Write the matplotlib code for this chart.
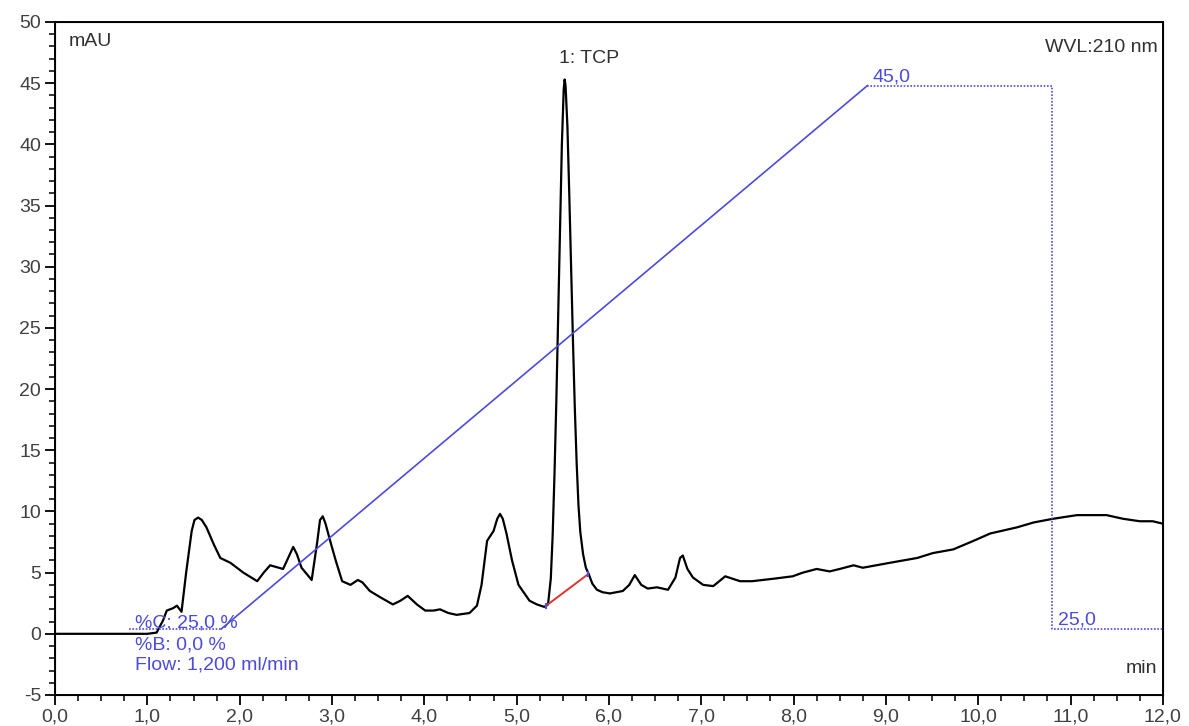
import numpy as np
import matplotlib.pyplot as plt
from matplotlib.ticker import MultipleLocator, FuncFormatter

plt.rcParams['font.family'] = ['Liberation Sans', 'DejaVu Sans']

# chromatogram trace (min, mAU)
t_min = [0.0, 0.5, 1.0, 1.10, 1.17, 1.21, 1.28, 1.32, 1.37, 1.42, 1.48, 1.51,
         1.55, 1.59, 1.64, 1.72, 1.79, 1.90, 2.04, 2.19, 2.26, 2.33, 2.47,
         2.55, 2.58, 2.62, 2.67, 2.78, 2.84, 2.87, 2.90, 2.93, 2.98, 3.04,
         3.11, 3.20, 3.28, 3.33, 3.41, 3.52, 3.66, 3.74, 3.82, 3.92, 4.01,
         4.10, 4.17, 4.26, 4.35, 4.49, 4.57, 4.62, 4.68, 4.75, 4.79, 4.82,
         4.85, 4.89, 4.95, 5.02, 5.14, 5.22, 5.30,
         5.34, 5.37, 5.39, 5.41, 5.43, 5.45, 5.47, 5.49, 5.51, 5.52, 5.53,
         5.55, 5.57, 5.59, 5.61, 5.63, 5.65, 5.67, 5.69, 5.72, 5.75, 5.78,
         5.82, 5.87, 5.93, 6.01, 6.15, 6.22, 6.28, 6.35, 6.42, 6.52, 6.64,
         6.72, 6.77, 6.80, 6.85, 6.91, 7.02, 7.13, 7.26, 7.42, 7.55, 7.78,
         7.99, 8.10, 8.25, 8.39, 8.50, 8.65, 8.75, 9.04, 9.34, 9.51, 9.73,
         9.95, 10.13, 10.42, 10.60, 10.81, 11.07, 11.39, 11.57, 11.75, 11.89,
         12.0]
mau = [0.0, 0.0, 0.0, 0.1, 1.1, 1.9, 2.1, 2.3, 1.8, 5.0, 8.4, 9.3,
       9.5, 9.3, 8.7, 7.3, 6.2, 5.8, 5.0, 4.3, 5.0, 5.6, 5.3,
       6.6, 7.1, 6.5, 5.4, 4.4, 7.5, 9.3, 9.6, 9.0, 7.6, 6.0,
       4.3, 4.0, 4.4, 4.2, 3.5, 3.0, 2.4, 2.7, 3.1, 2.4, 1.9,
       1.9, 2.0, 1.7, 1.55, 1.7, 2.3, 4.0, 7.6, 8.4, 9.4, 9.8,
       9.4, 8.2, 6.0, 4.0, 2.7, 2.4, 2.2,
       2.4, 4.5, 8.0, 13.0, 19.0, 26.0, 33.0, 40.0, 44.5, 45.3, 44.8,
       41.5, 36.0, 30.0, 24.0, 18.5, 14.0, 10.5, 8.3, 6.5, 5.4, 4.9,
       4.1, 3.6, 3.4, 3.3, 3.5, 4.0, 4.8, 4.0, 3.7, 3.8, 3.6,
       4.6, 6.2, 6.4, 5.3, 4.6, 4.0, 3.9, 4.7, 4.3, 4.3, 4.5,
       4.7, 5.0, 5.3, 5.1, 5.3, 5.6, 5.4, 5.8, 6.2, 6.6, 6.9,
       7.6, 8.2, 8.7, 9.1, 9.4, 9.7, 9.7, 9.4, 9.2, 9.2,
       9.0]

# peak baseline (red)
base_t = [5.32, 5.77]
base_y = [2.3, 4.85]

# gradient program (%C)
grad_t = [0.8, 1.8, 8.8, 10.8, 10.8, 12.0]
grad_pct = [25.0, 25.0, 45.0, 45.0, 25.0, 25.0]

blue = '#4b4bdc'
fs = 14

fig = plt.figure(figsize=(11.89, 7.26), dpi=100)
ax = fig.add_axes([0.0463, 0.0427, 0.9317, 0.927])

ax.plot(t_min, mau, color='black', lw=1.6, zorder=3)
ax.plot(base_t, base_y, color='#e03030', lw=1.4, zorder=4)
ax.plot(base_t, base_y, ls='none', marker='|', ms=5, mew=1.5, color=blue, zorder=5)

ax.set_xlim(0, 12)
ax.set_ylim(-5, 50)
ax.xaxis.set_major_locator(MultipleLocator(1))
ax.xaxis.set_minor_locator(MultipleLocator(0.25))
ax.yaxis.set_major_locator(MultipleLocator(5))
ax.yaxis.set_minor_locator(MultipleLocator(1))
ax.xaxis.set_major_formatter(FuncFormatter(lambda v, p: ('%.1f' % v).replace('.', ',')))
ax.yaxis.set_major_formatter(FuncFormatter(lambda v, p: '%d' % v))
ax.tick_params(which='major', length=7, width=1.3, labelsize=fs, labelcolor='#404040', pad=3)
ax.tick_params(which='minor', length=4, width=1.1)
for s in ax.spines.values():
    s.set_linewidth(1.4)

# gradient on its own scale
ax2 = ax.twinx()
ax2.set_ylim(22.57, 47.34)
ax2.set_yticks([])
ax2.plot(grad_t[0:2], grad_pct[0:2], color=blue, lw=1.2, ls=(0, (1, 1)))
ax2.plot(grad_t[1:3], grad_pct[1:3], color=blue, lw=1.2)
ax2.plot(grad_t[2:], grad_pct[2:], color=blue, lw=1.2, ls=(0, (1, 1)))
ax2.text(8.85, 45.0, '45,0', color=blue, fontsize=fs, va='bottom', ha='left')
ax2.text(10.86, 25.0, '25,0', color=blue, fontsize=fs, va='bottom', ha='left')

ax.text(0.87, 0.2, '%C: 25,0 %', color=blue, fontsize=fs, va='bottom', ha='left')
ax.text(0.87, -0.9, '%B: 0,0 %', color=blue, fontsize=fs, va='center', ha='left')
ax.text(0.87, -2.55, 'Flow: 1,200 ml/min', color=blue, fontsize=fs, va='center', ha='left')

ax.text(5.46, 47.0, '1: TCP', color='#303030', fontsize=fs, va='center', ha='left')
ax.text(0.012, 0.984, 'mAU', transform=ax.transAxes, color='#303030', fontsize=fs, va='top', ha='left')
ax.text(0.995, 0.975, 'WVL:210 nm', transform=ax.transAxes, color='#303030', fontsize=fs, va='top', ha='right')
ax.text(0.995, 0.04, 'min', transform=ax.transAxes, color='#303030', fontsize=fs, va='center', ha='right')

fig.savefig('out.png', dpi=100)
